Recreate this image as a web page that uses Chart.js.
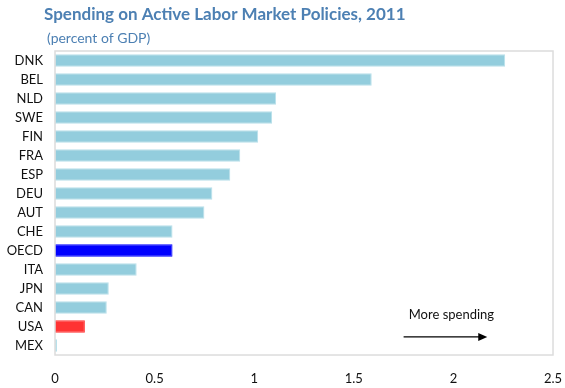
<!DOCTYPE html>
<html>
<head>
<meta charset="utf-8">
<script src="https://cdn.jsdelivr.net/npm/chart.js@4"></script>
<style>
  html, body { margin: 0; padding: 0; background: #fff; }
  #wrap { width: 565px; height: 388px; }
</style>
</head>
<body>
<div id="wrap"><canvas id="almpChart" width="565" height="388"></canvas></div>
<script>
// Spending on active labour market policies, percent of GDP
const countries = ['DNK', 'BEL', 'NLD', 'SWE', 'FIN', 'FRA', 'ESP', 'DEU', 'AUT', 'CHE', 'OECD', 'ITA', 'JPN', 'CAN', 'USA', 'MEX'];
const spending = [2.26, 1.59, 1.11, 1.09, 1.02, 0.93, 0.88, 0.79, 0.75, 0.59, 0.59, 0.41, 0.27, 0.26, 0.15, 0.01];
const xTicks = [0, 0.5, 1, 1.5, 2, 2.5];

const FONT = 'Lato, "Open Sans", sans-serif';

function barColor(name) {
    if (name === 'OECD') return '#0000ff';
    if (name === 'USA') return '#ff3333';
    return '#93cddd';
}
function barEdge(name) {
    if (name === 'OECD') return '#0000ff';
    if (name === 'USA') return '#ff3333';
    return '#b8e0ea';
}

// headings, plot frame and the "more spending" arrow
const decorations = {
    id: 'decorations',
    afterDraw(chart) {
        const c = chart.ctx;
        const a = chart.chartArea;
        const x = chart.scales.x;
        const y = chart.scales.y;
        c.save();

        c.fillStyle = '#4d80b3';
        c.textBaseline = 'middle';
        c.textAlign = 'left';
        c.font = 'bold 17px ' + FONT;
        c.fillText('Spending on Active Labor Market Policies, 2011', 44, 15);
        c.font = '14px ' + FONT;
        c.fillText('(percent of GDP)', 47, 38);

        c.strokeStyle = '#dcdcdc';
        c.lineWidth = 1.5;
        c.strokeRect(a.left, a.top, a.right - a.left, a.bottom - a.top);

        c.fillStyle = '#111';
        c.font = '13px ' + FONT;
        c.textAlign = 'center';
        c.fillText('More spending', x.getPixelForValue(1.99), y.getPixelForValue(13.4));

        const ay = y.getPixelForValue(14.55);
        const x0 = x.getPixelForValue(1.75);
        const x1 = x.getPixelForValue(2.17);
        c.strokeStyle = '#000';
        c.lineWidth = 1.2;
        c.beginPath();
        c.moveTo(x0, ay);
        c.lineTo(x1 - 6, ay);
        c.stroke();
        c.fillStyle = '#000';
        c.beginPath();
        c.moveTo(x1, ay);
        c.lineTo(x1 - 9, ay - 4);
        c.lineTo(x1 - 9, ay + 4);
        c.closePath();
        c.fill();
        c.restore();
    }
};

new Chart(document.getElementById('almpChart'), {
    type: 'bar',
    data: {
        labels: countries,
        datasets: [{
            data: spending,
            backgroundColor: countries.map(barColor),
            borderColor: countries.map(barEdge),
            borderWidth: 1,
            borderSkipped: false,
            categoryPercentage: 1,
            barPercentage: 0.66
        }]
    },
    options: {
        indexAxis: 'y',
        responsive: false,
        animation: false,
        layout: { padding: { top: 51, right: 12, left: 0, bottom: 0 } },
        plugins: {
            legend: { display: false },
            tooltip: { enabled: false }
        },
        scales: {
            x: {
                min: 0,
                max: 2.5,
                afterBuildTicks(scale) {
                    scale.ticks = xTicks.map(v => ({ value: v }));
                },
                afterFit(scale) {
                    scale.height = 33;
                    scale.paddingLeft = 0;
                    scale.paddingRight = 0;
                },
                grid: { display: false, drawTicks: false },
                border: { display: false },
                ticks: {
                    color: '#111',
                    padding: 16,
                    font: { size: 13, family: FONT },
                    maxRotation: 0,
                    callback: v => String(v)
                }
            },
            y: {
                afterFit(scale) {
                    scale.width = 55;
                    scale.paddingTop = 0;
                    scale.paddingBottom = 0;
                },
                grid: { display: false, drawTicks: false },
                border: { display: false },
                ticks: {
                    color: '#111',
                    padding: 12,
                    font: { size: 13, family: FONT }
                }
            }
        }
    },
    plugins: [decorations]
});
</script>
</body>
</html>
